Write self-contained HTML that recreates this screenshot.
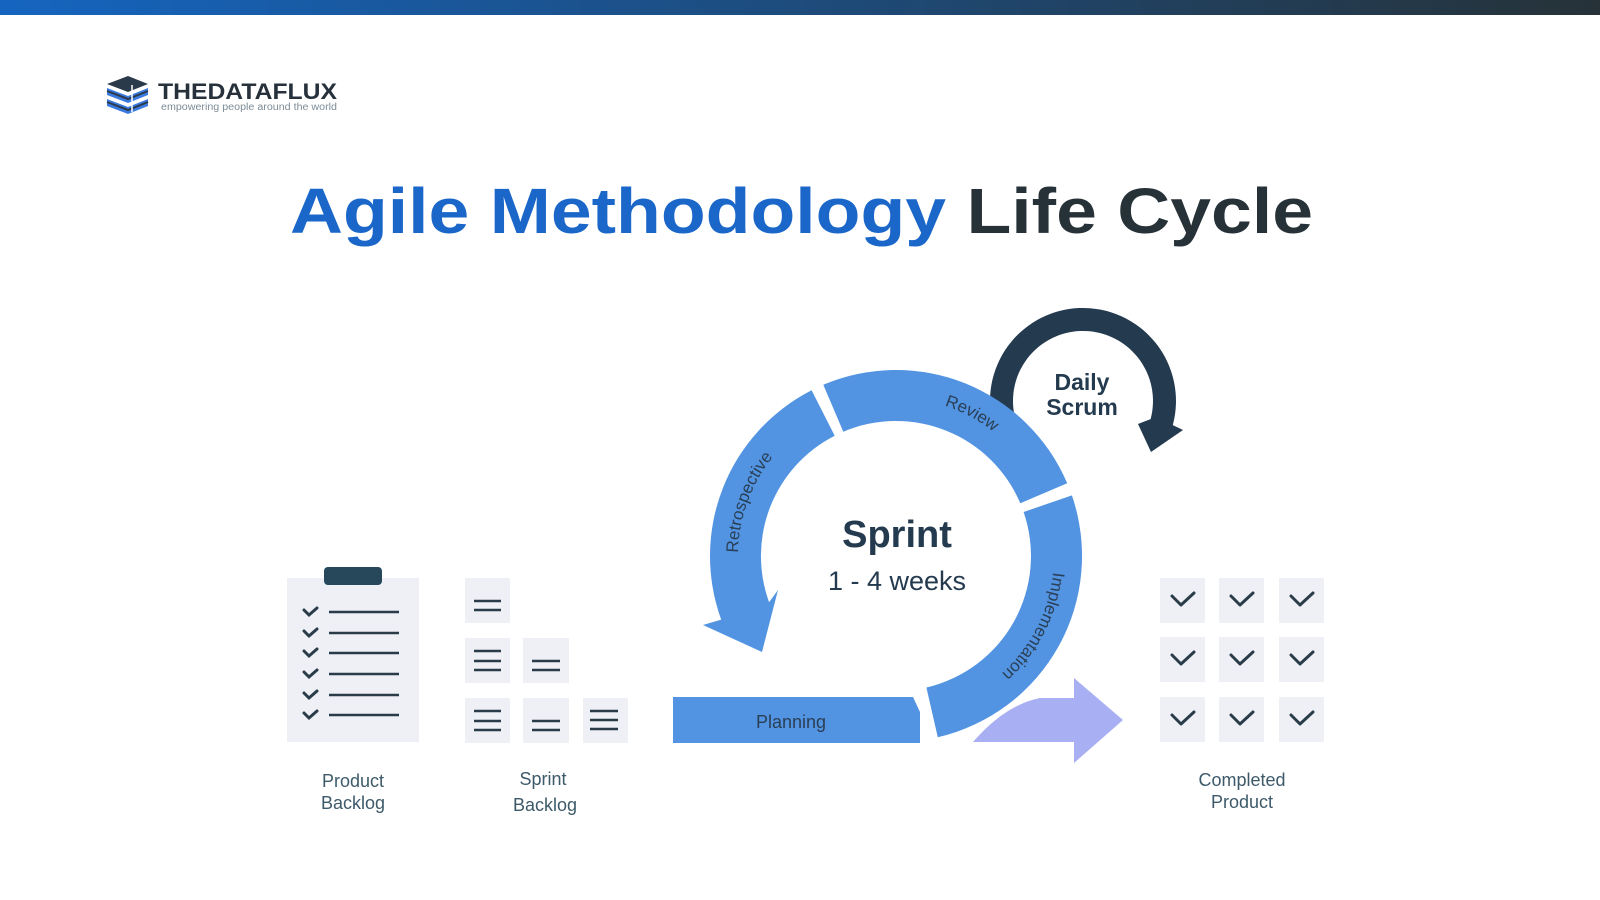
<!DOCTYPE html>
<html><head><meta charset="utf-8"><style>
html,body{margin:0;padding:0;background:#fff;width:1600px;height:900px;overflow:hidden}
svg{display:block}
</style></head><body>
<svg width="1600" height="900" viewBox="0 0 1600 900" xmlns="http://www.w3.org/2000/svg" font-family="'Liberation Sans', sans-serif">
<defs>
<linearGradient id="tb" x1="0" x2="1" y1="0" y2="0"><stop offset="0" stop-color="#1565c0"/><stop offset="1" stop-color="#263238"/></linearGradient>
<path id="pRetro" d="M759.2,635 A158 158 0 0 1 842,407.5"/>
<path id="pReview" d="M836.8,409.5 A158 158 0 0 1 1050.5,523.2"/>
<path id="pImpl" d="M1041.4,494.3 A158 158 0 0 1 931.6,710"/>
</defs>
<rect x="0" y="0" width="1600" height="15" fill="url(#tb)"/>

<!-- logo -->
<g>
<path d="M107,84 L128,76 L148,84 L128,92 Z" fill="#2b3a4a"/>
<path d="M107,88 L128,96 L148,88 L148,95 L128,103 L107,95 Z" fill="#3b7be0"/>
<path d="M107,99 L128,107 L148,99 L148,106 L128,114 L107,106 Z" fill="#3b7be0"/>
<path d="M107,91 L128,99 L148,91" stroke="#2b3a4a" stroke-width="2" fill="none"/>
<path d="M107,102 L128,110 L148,102" stroke="#2b3a4a" stroke-width="2" fill="none"/>
<line x1="132" y1="85" x2="132" y2="112" stroke="#fff" stroke-width="1.5"/>
</g>
<text x="158" y="99" font-size="22" font-weight="bold" fill="#26313b" textLength="179" lengthAdjust="spacingAndGlyphs">THEDATAFLUX</text>
<text x="161" y="110" font-size="10" fill="#7d8c97" textLength="176" lengthAdjust="spacingAndGlyphs">empowering people around the world</text>

<!-- title -->
<text x="290" y="233" font-size="64" font-weight="bold" textLength="1023" lengthAdjust="spacingAndGlyphs"><tspan fill="#1a67c9">Agile Methodology</tspan><tspan fill="#263238"> Life Cycle</tspan></text>

<!-- daily scrum -->
<path d="M995.6,432.8 A93 93 0 1 1 1172.8,425.1 L1183,430 L1151,452 L1138,424 L1150.6,419.1 A70 70 0 1 0 1017.2,424.9 Z" fill="#243a4f"/>
<text x="1082" y="390" font-size="23" font-weight="bold" fill="#243a4f" text-anchor="middle">Daily</text>
<text x="1082" y="415" font-size="23" font-weight="bold" fill="#243a4f" text-anchor="middle">Scrum</text>

<!-- ring -->
<path d="M823.3,384.8 A186 186 0 0 1 1067.2,483.3 L1020.3,503.3 A135 135 0 0 0 843.3,431.7 Z" fill="#5294e2"/>
<path d="M1071.9,495.4 A186 186 0 0 1 937.8,737.2 L926.4,687.5 A135 135 0 0 0 1023.6,512 Z" fill="#5294e2"/>
<path d="M811.6,390.3 A186 186 0 0 0 721.2,619.6 L703,625 L762,652 L778,590 L769.1,602.2 A135 135 0 0 1 834.7,435.7 Z" fill="#5294e2"/>
<path d="M673,697 L913,697 L920,712 L920,743 L673,743 Z" fill="#5294e2"/>

<text font-size="17" fill="#2a3f55"><textPath href="#pRetro" startOffset="50%" text-anchor="middle">Retrospective</textPath></text>
<text font-size="17" fill="#2a3f55"><textPath href="#pReview" startOffset="50%" text-anchor="middle">Review</textPath></text>
<text font-size="17" fill="#2a3f55"><textPath href="#pImpl" startOffset="50%" text-anchor="middle">Implementation</textPath></text>
<text x="791" y="728" font-size="18" fill="#2a3f55" text-anchor="middle">Planning</text>

<text x="897" y="547" font-size="38" font-weight="bold" fill="#243a4f" text-anchor="middle">Sprint</text>
<text x="897" y="590" font-size="27" fill="#243a4f" text-anchor="middle">1 - 4 weeks</text>

<!-- purple arrow -->
<path d="M973,742 Q1005,705 1040,698 L1074,698 L1074,678 L1123,720 L1074,763 L1074,742 Z" fill="#a8b0f3"/>

<!-- product backlog -->
<rect x="287" y="578" width="132" height="164" fill="#eef0f5"/>
<rect x="324" y="567" width="58" height="18" rx="4" fill="#27485a"/>
<g stroke="#2a3b4a" stroke-width="3" fill="none" stroke-linecap="round">
<path d="M304,610 l5,5 l8,-7 M304,631 l5,5 l8,-7 M304,651 l5,5 l8,-7 M304,672 l5,5 l8,-7 M304,693 l5,5 l8,-7 M304,713 l5,5 l8,-7"/>
</g>
<g stroke="#2a3b4a" stroke-width="2.5">
<line x1="329" y1="612" x2="399" y2="612"/><line x1="329" y1="633" x2="399" y2="633"/><line x1="329" y1="653" x2="399" y2="653"/><line x1="329" y1="674" x2="399" y2="674"/><line x1="329" y1="695" x2="399" y2="695"/><line x1="329" y1="715" x2="399" y2="715"/>
</g>
<text x="353" y="787" font-size="18" fill="#3d5a6a" text-anchor="middle">Product</text>
<text x="353" y="809" font-size="18" fill="#3d5a6a" text-anchor="middle">Backlog</text>

<!-- sprint backlog -->
<g fill="#eef0f5">
<rect x="465" y="578" width="45" height="45"/>
<rect x="465" y="638" width="45" height="45"/><rect x="523" y="638" width="46" height="45"/>
<rect x="465" y="698" width="45" height="45"/><rect x="523" y="698" width="46" height="45"/><rect x="583" y="698" width="45" height="45"/>
</g>
<g stroke="#2a3b4a" stroke-width="2.5">
<line x1="474" y1="601" x2="501" y2="601"/><line x1="474" y1="610" x2="501" y2="610"/>
<line x1="474" y1="651" x2="501" y2="651"/><line x1="474" y1="661" x2="501" y2="661"/><line x1="474" y1="670" x2="501" y2="670"/>
<line x1="532" y1="661" x2="560" y2="661"/><line x1="532" y1="670" x2="560" y2="670"/>
<line x1="474" y1="711" x2="501" y2="711"/><line x1="474" y1="721" x2="501" y2="721"/><line x1="474" y1="730" x2="501" y2="730"/>
<line x1="532" y1="721" x2="560" y2="721"/><line x1="532" y1="730" x2="560" y2="730"/>
<line x1="590" y1="711" x2="618" y2="711"/><line x1="590" y1="720" x2="618" y2="720"/><line x1="590" y1="729" x2="618" y2="729"/>
</g>
<text x="543" y="785" font-size="18" fill="#3d5a6a" text-anchor="middle">Sprint</text>
<text x="545" y="811" font-size="18" fill="#3d5a6a" text-anchor="middle">Backlog</text>

<!-- completed product -->
<g fill="#eef0f5">
<rect x="1160" y="578" width="45" height="45"/><rect x="1219" y="578" width="45" height="45"/><rect x="1279" y="578" width="45" height="45"/>
<rect x="1160" y="637" width="45" height="45"/><rect x="1219" y="637" width="45" height="45"/><rect x="1279" y="637" width="45" height="45"/>
<rect x="1160" y="697" width="45" height="45"/><rect x="1219" y="697" width="45" height="45"/><rect x="1279" y="697" width="45" height="45"/>
</g>
<g stroke="#2a3b4a" stroke-width="3" fill="none" stroke-linecap="round" stroke-linejoin="round">
<path d="M1172,596 l9,9 l13,-12 M1231,596 l9,9 l13,-12 M1291,596 l9,9 l13,-12"/>
<path d="M1172,655 l9,9 l13,-12 M1231,655 l9,9 l13,-12 M1291,655 l9,9 l13,-12"/>
<path d="M1172,715 l9,9 l13,-12 M1231,715 l9,9 l13,-12 M1291,715 l9,9 l13,-12"/>
</g>
<text x="1242" y="786" font-size="18" fill="#3d5a6a" text-anchor="middle">Completed</text>
<text x="1242" y="808" font-size="18" fill="#3d5a6a" text-anchor="middle">Product</text>
</svg>
</body></html>
